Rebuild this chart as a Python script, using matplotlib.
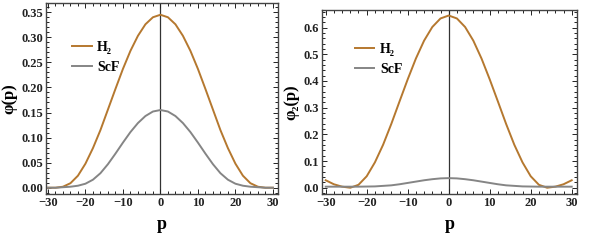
import matplotlib
matplotlib.use("Agg")
import matplotlib.pyplot as plt
from matplotlib.ticker import MultipleLocator

plt.rcParams['font.family'] = ['Liberation Serif', 'DejaVu Serif']
plt.rcParams['font.weight'] = 'bold'

# momentum grid
p = [-30, -28, -26, -24, -22, -20, -18, -16, -14, -12, -10, -8, -6, -4, -2, 0,
     2, 4, 6, 8, 10, 12, 14, 16, 18, 20, 22, 24, 26, 28, 30]

# left panel: phi(p)
h2_left = [0.0, 0.0, 0.002, 0.009, 0.024, 0.048, 0.079, 0.115, 0.156, 0.197, 0.237,
           0.273, 0.303, 0.326, 0.340, 0.345,
           0.340, 0.326, 0.303, 0.273, 0.237, 0.197, 0.156, 0.115, 0.079, 0.048,
           0.024, 0.009, 0.002, 0.0, 0.0]
scf_left = [0.0, 0.0, 0.001, 0.002, 0.004, 0.008, 0.016, 0.029, 0.047, 0.068, 0.090,
            0.111, 0.129, 0.143, 0.152, 0.155,
            0.152, 0.143, 0.129, 0.111, 0.090, 0.068, 0.047, 0.029, 0.016, 0.008,
            0.004, 0.002, 0.001, 0.0, 0.0]

# right panel: phi_2(p)
h2_right = [0.028, 0.013, 0.004, 0.0, 0.011, 0.043, 0.095, 0.161, 0.239, 0.323, 0.406,
            0.484, 0.551, 0.602, 0.634, 0.645,
            0.634, 0.602, 0.551, 0.484, 0.406, 0.323, 0.239, 0.161, 0.095, 0.043,
            0.011, 0.0, 0.004, 0.013, 0.028]
scf_right = [0.004, 0.004, 0.004, 0.004, 0.004, 0.0045, 0.005, 0.007, 0.009, 0.013, 0.018,
             0.023, 0.028, 0.032, 0.035, 0.036,
             0.035, 0.032, 0.028, 0.023, 0.018, 0.013, 0.009, 0.007, 0.005, 0.0045,
             0.004, 0.004, 0.004, 0.004, 0.004]

orange = '#b5782f'
grey = '#858585'

fig = plt.figure(figsize=(5.89, 2.45), dpi=100)
ax1 = fig.add_axes([0.0776, 0.208, 0.394, 0.778])
ax2 = fig.add_axes([0.5467, 0.208, 0.433, 0.751])


def style(ax, ymajor, yminor, ylim, fmt):
    ax.set_xlim(-30.6, 31.3)
    ax.set_ylim(*ylim)
    ax.axvline(0, color='#333333', lw=0.9, zorder=1)
    ax.xaxis.set_major_locator(MultipleLocator(10))
    ax.xaxis.set_minor_locator(MultipleLocator(2))
    ax.yaxis.set_major_locator(MultipleLocator(ymajor))
    ax.yaxis.set_minor_locator(MultipleLocator(yminor))
    ax.yaxis.set_major_formatter(plt.FormatStrFormatter(fmt))
    ax.tick_params(which='both', direction='in', top=True, right=True,
                   labelsize=9, colors='#222222', width=0.7, pad=2)
    ax.tick_params(which='major', length=3.5)
    ax.tick_params(which='minor', length=2)
    for lab in ax.get_xticklabels() + ax.get_yticklabels():
        lab.set_fontweight('bold')
    for s in ax.spines.values():
        s.set_color('#444444')
        s.set_linewidth(1.0)
    ax.set_xlabel('p', fontsize=13, fontweight='bold', labelpad=5)


ax1.plot(p, h2_left, color=orange, lw=1.4, label='H₂', zorder=3)
ax1.plot(p, scf_left, color=grey, lw=1.4, label='ScF', zorder=3)
style(ax1, 0.05, 0.01, (-0.0126, 0.3676), '%.2f')
ax1.set_ylabel('φ(p)', fontsize=12, fontweight='bold', labelpad=3)
ax1.legend(loc='upper left', bbox_to_anchor=(0.06, 0.87), frameon=False,
           prop={'size': 10, 'weight': 'bold'},
           handlelength=1.4, handletextpad=0.4, labelspacing=0.5)

ax2.plot(p, h2_right, color=orange, lw=1.4, label='H₂', zorder=3)
ax2.plot(p, scf_right, color=grey, lw=1.4, label='ScF', zorder=3)
style(ax2, 0.1, 0.02, (-0.0236, 0.6655), '%.1f')
ax2.set_xlim(-30.9, 31.3)
ax2.set_ylabel('φ₂(p)', fontsize=12, fontweight='bold', labelpad=3)
ax2.legend(loc='upper left', bbox_to_anchor=(0.08, 0.89), frameon=False,
           prop={'size': 10, 'weight': 'bold'},
           handlelength=1.4, handletextpad=0.4, labelspacing=0.5)

fig.savefig('out.png', dpi=100)
